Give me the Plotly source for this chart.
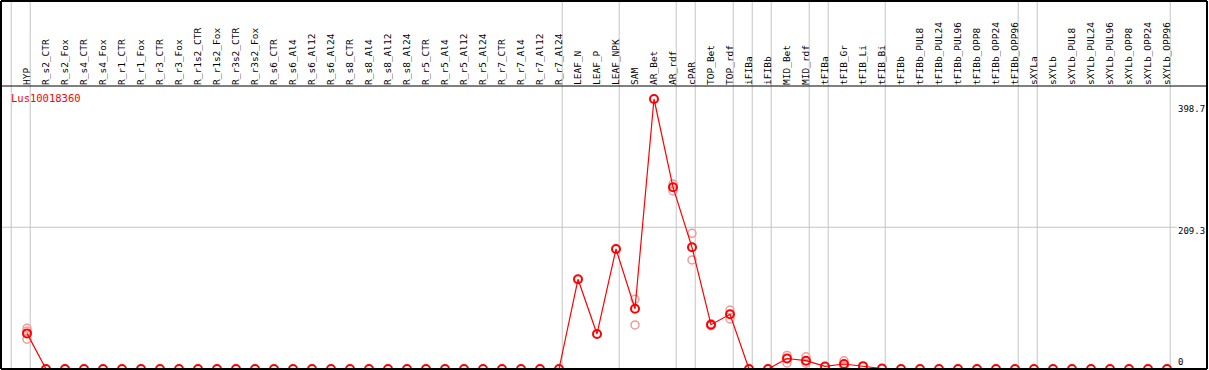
import plotly.graph_objects as go

categories = [
    "HYP",
    "R_s2_CTR", "R_s2_Fox", "R_s4_CTR", "R_s4_Fox", "R_r1_CTR", "R_r1_Fox",
    "R_r3_CTR", "R_r3_Fox", "R_r1s2_CTR", "R_r1s2_Fox", "R_r3s2_CTR", "R_r3s2_Fox",
    "R_s6_CTR", "R_s6_Al4", "R_s6_Al12", "R_s6_Al24",
    "R_s8_CTR", "R_s8_Al4", "R_s8_Al12", "R_s8_Al24",
    "R_r5_CTR", "R_r5_Al4", "R_r5_Al12", "R_r5_Al24",
    "R_r7_CTR", "R_r7_Al4", "R_r7_Al12", "R_r7_Al24",
    "LEAF_N", "LEAF_P", "LEAF_NPK",
    "SAM", "AR_Bet", "AR_rdf", "cPAR", "TOP_Bet", "TOP_rdf",
    "iFIBa", "iFIBb", "MID_Bet", "MID_rdf",
    "tFIBa", "tFIB_Gr", "tFIB_Li", "tFIB_Bi",
    "tFIBb", "tFIBb_PUL8", "tFIBb_PUL24", "tFIBb_PUL96",
    "tFIBb_OPP8", "tFIBb_OPP24", "tFIBb_OPP96",
    "sXYLa", "sXYLb", "sXYLb_PUL8", "sXYLb_PUL24", "sXYLb_PUL96",
    "sXYLb_OPP8", "sXYLb_OPP24", "sXYLb_OPP96",
]

mean_values = (
    [52.6]
    + [0] * 28
    + [132.5, 51.7, 177.2,
       89.0, 398.7, 268.5, 179.7, 65.4, 80.8,
       0, 0, 15.5, 12.3,
       3.8, 7.4, 4.2, 0.7]
    + [0] * 15
)

rep_categories = ["HYP", "HYP", "HYP", "SAM", "SAM", "AR_rdf", "AR_rdf",
                  "cPAR", "cPAR", "TOP_Bet", "TOP_Bet", "TOP_rdf", "TOP_rdf",
                  "MID_Bet", "MID_Bet", "MID_rdf", "MID_rdf", "tFIB_Gr", "tFIB_Gr"]
rep_values = [60, 56, 44, 103, 65, 273, 263,
              200.4, 161, 67, 64, 87, 74,
              20, 9, 18, 8.5, 12, 4]

# last category index of each group (-1 = left edge)
group_ends = [-1, 0, 28, 31, 34, 35, 37, 38, 39, 41, 42, 45, 52, 53, 60]

y_tick_vals = [0, 209.3, 398.7]
y_tick_text = ["0", "209.3", "398.7"]
gene_id = "Lus10018360"

idx = {c: i for i, c in enumerate(categories)}
x_main = list(range(len(categories)))
x_rep = [idx[c] for c in rep_categories]

W, H = 1209, 370
ML, MR, MT, MB = 1, 2, 86, 1
plot_w = W - ML - MR
plot_h = H - MT - MB
px_per_cat = 19.0
first_px = 27.0
xmin = -(first_px - ML) / px_per_cat
xmax = xmin + plot_w / px_per_cat
ymax = 398.7 * plot_h / 270.0
top_paper = (H - MB - 1) / plot_h

FONT = "DejaVu Sans Mono"
RED = "#ff0000"

fig = go.Figure()
fig.add_trace(go.Scatter(
    x=x_rep, y=rep_values, mode="markers",
    marker=dict(symbol="circle-open", size=8, color="#f09a9a", line=dict(width=1.5)),
    hoverinfo="skip", showlegend=False,
))
fig.add_trace(go.Scatter(
    x=x_main, y=mean_values, mode="lines+markers",
    line=dict(color=RED, width=1.2),
    marker=dict(symbol="circle-open", size=8, color=RED, line=dict(width=2)),
    showlegend=False,
))

shapes = []
for g in group_ends:
    shapes.append(dict(type="line", xref="x", yref="paper", x0=g + 0.17, x1=g + 0.17,
                       y0=0, y1=top_paper, line=dict(color="#c4c4c4", width=1), layer="below"))
shapes.append(dict(type="line", xref="paper", yref="y", x0=0, x1=(1177 - ML) / plot_w,
                   y0=y_tick_vals[1], y1=y_tick_vals[1], line=dict(color="#c4c4c4", width=1), layer="below"))
# frame
shapes += [
    dict(type="line", xref="paper", yref="paper", x0=0, x1=1, y0=1, y1=1, line=dict(color="black", width=1)),
    dict(type="line", xref="paper", yref="paper", x0=0, x1=1, y0=0, y1=0, line=dict(color="black", width=2)),
    dict(type="line", xref="paper", yref="paper", x0=0, x1=1, y0=top_paper, y1=top_paper, line=dict(color="black", width=2)),
    dict(type="line", xref="paper", yref="paper", x0=0, x1=0, y0=0, y1=top_paper, line=dict(color="black", width=2)),
    dict(type="line", xref="paper", yref="paper", x0=1, x1=1, y0=0, y1=top_paper, line=dict(color="black", width=2)),
]

annotations = [
    dict(text=gene_id, xref="paper", yref="paper", x=(9 - ML) / plot_w, y=1, xanchor="left",
         yanchor="top", yshift=-4, showarrow=False, font=dict(family=FONT, size=10.5, color=RED)),
]
anchors = ["bottom", "middle", "top"]
shifts = [0, -4, -3]
for v, t, a, s in zip(y_tick_vals, y_tick_text, anchors, shifts):
    annotations.append(dict(text=t, xref="paper", yref="y", x=(1176 - ML) / plot_w, y=v,
                            xanchor="left", yanchor=a, yshift=s, showarrow=False,
                            font=dict(family=FONT, size=9, color="black")))

fig.update_layout(
    width=W, height=H,
    margin=dict(l=ML, r=MR, t=MT, b=MB, pad=0),
    paper_bgcolor="white", plot_bgcolor="white",
    shapes=shapes, annotations=annotations,
    xaxis=dict(range=[xmin, xmax], side="top", tickmode="array", tickvals=x_main,
               ticktext=categories, tickangle=-90, ticks="", showgrid=False,
               zeroline=False, showline=False, automargin=False,
               tickfont=dict(family=FONT, size=9.5, color="black")),
    yaxis=dict(range=[0, ymax], showgrid=False, zeroline=False, showline=False,
               showticklabels=False, ticks="", automargin=False),
)

fig.write_html(
    "out.html",
    config={"displayModeBar": False},
    post_script="document.body.style.margin='0px';document.body.style.padding='0px';document.body.style.overflow='hidden';",
)
